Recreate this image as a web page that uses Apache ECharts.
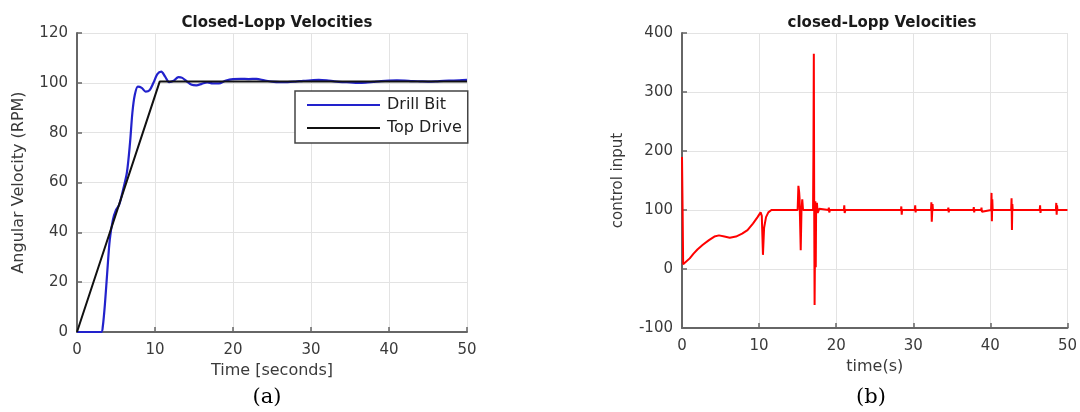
<!DOCTYPE html>
<html>
<head>
<meta charset="utf-8">
<title>Closed-Lopp Velocities</title>
<script src="https://cdn.jsdelivr.net/npm/echarts@6.0.0/dist/echarts.min.js"></script>
<style>
    html, body {margin: 0; padding: 0; background: #fff;}
    #myChart {width: 1080px; height: 412px;}
</style>
</head>
<body>
<div id="myChart"></div>
<script>
// (a) drill bit / top drive velocities
let bitTime = [0, 3.1, 3.3, 3.6, 3.9, 4.2, 4.6, 5.0, 5.4, 5.9, 6.4, 6.8, 7.1, 7.4, 7.8, 8.3, 8.8, 9.3, 9.8,
    10.3, 10.8, 11.3, 11.8, 12.4, 13.0, 13.5, 14.1, 14.7, 15.3, 16.0, 16.7, 17.4, 18.2, 19.0, 20, 21, 22, 23,
    24, 25, 26, 27, 28, 29, 30, 31, 32, 33, 34, 35, 36, 37, 38, 39, 40, 41, 42, 43, 44, 45, 46, 47, 48, 49, 50];
let bitSpeed = [0, 0, 2, 12, 25, 37, 45, 49, 51, 57, 64, 76, 88, 95, 98.5, 98, 96.5, 97, 100,
    103.5, 104.5, 102.5, 100.3, 100.8, 102.3, 102, 100.5, 99.2, 99, 99.6, 100.2, 99.8, 99.8, 100.8, 101.5, 101.6, 101.5, 101.6,
    101, 100.5, 100.3, 100.3, 100.5, 100.8, 101, 101.2, 101, 100.6, 100.3, 100.2, 100, 100.1, 100.4, 100.7, 100.9, 101, 100.9, 100.7, 100.6, 100.5, 100.6, 100.8, 100.9, 101, 101.2];

let driveTime = [0, 10.6, 50];
let driveSpeed = [0, 100.5, 100.5];

// (b) control input
let ctrlTime = [0, 0.08, 0.15, 0.4, 1.0, 1.5, 2.0, 2.7, 3.5, 4.2, 4.8, 5.5, 6.2, 7.0, 7.8, 8.5, 9.2, 9.8, 10.2,
    10.35, 10.5, 10.65, 10.9, 11.2, 11.6, 12.5, 12.6, 12.7, 12.8,
    15.0, 15.1, 15.2, 15.25, 15.3, 15.4, 15.5, 15.6, 15.7,
    17.0, 17.05, 17.1, 17.15, 17.2, 17.25, 17.3, 17.35, 17.4, 17.5, 17.6, 17.8, 18.0,
    19.0, 19.05, 19.1, 19.2, 21.0, 21.05, 21.1, 21.2, 24.6, 24.65, 24.7, 24.75, 26.4, 26.45, 26.5, 26.55,
    28.4, 28.45, 28.5, 28.55, 30.2, 30.25, 30.3, 30.35, 32.3, 32.35, 32.4, 32.5, 32.55,
    34.5, 34.55, 34.6, 34.65, 37.8, 37.85, 37.9, 37.95, 38.8, 38.85, 38.9, 38.95,
    40.1, 40.15, 40.2, 40.25, 40.3, 42.7, 42.75, 42.8, 42.85, 42.9,
    44.7, 44.75, 44.8, 44.85, 46.4, 46.45, 46.5, 46.55, 48.5, 48.55, 48.6, 48.65, 48.7, 50];
let ctrlInput = [190, 100, 8, 10, 18, 26, 33, 41, 49, 55, 57, 55, 53, 55, 60, 66, 77, 88, 96,
    90, 24, 70, 88, 96, 100, 100, 103, 98, 100,
    100, 141, 130, 120, 90, 32, 100, 118, 100,
    100, 200, 365, 100, -61, 30, 115, 3, 108, 112, 95, 102, 100,
    100, 104, 96, 100, 100, 108, 95, 100, 100, 101.5, 99, 100, 100, 102, 98.5, 100,
    100, 106, 92, 100, 100, 108, 96, 100, 100, 113, 80, 110, 100,
    100, 104, 96, 100, 100, 105, 96, 100, 100, 104, 97, 100,
    100, 129, 81, 118, 100, 100, 120, 66, 110, 100,
    100, 103, 97, 100, 100, 108, 95, 100, 100, 112, 92, 108, 100, 100];

let timeTicks = [0, 10, 20, 30, 40, 50];

function zip(xs, ys) {
    return xs.map((x, i) => [x, ys[i]]);
}

const FONT = 'DejaVu Sans';
const textGrey = '#3a3a3a';
const axisGrey = '#666';

function timeAxis(gridIndex, name) {
    return {
        type: 'value', gridIndex: gridIndex,
        min: timeTicks[0], max: timeTicks[timeTicks.length - 1], interval: 10,
        name: name, nameLocation: 'middle', nameGap: 30,
        nameTextStyle: {fontFamily: FONT, fontSize: 16, color: textGrey},
        axisLine: {onZero: false, lineStyle: {color: axisGrey, width: 2}},
        axisTick: {inside: true, length: 5, lineStyle: {color: axisGrey, width: 1.5}},
        axisLabel: {fontFamily: FONT, fontSize: 15, color: textGrey, margin: 11},
        splitLine: {lineStyle: {color: '#e3e3e3', width: 1}}
    };
}

function valueAxis(gridIndex, name, min, max, interval, gap, size) {
    return {
        type: 'value', gridIndex: gridIndex,
        min: min, max: max, interval: interval,
        name: name, nameLocation: 'middle', nameGap: gap,
        nameTextStyle: {fontFamily: FONT, fontSize: size, color: textGrey},
        axisLine: {show: true, onZero: false, lineStyle: {color: axisGrey, width: 2}},
        axisTick: {show: true, inside: true, length: 5, lineStyle: {color: axisGrey, width: 1.5}},
        axisLabel: {fontFamily: FONT, fontSize: 15, color: textGrey, margin: 9},
        splitLine: {lineStyle: {color: '#e3e3e3', width: 1}}
    };
}

let myChart = echarts.init(document.getElementById('myChart'));
myChart.setOption({
    backgroundColor: '#fff',
    animation: false,
    title: [
        {text: 'Closed-Lopp Velocities', left: 272, top: 11, textAlign: 'center',
            textStyle: {fontFamily: FONT, fontSize: 15, fontWeight: 'bold', color: '#1a1a1a'}},
        {text: 'closed-Lopp Velocities', left: 877, top: 11, textAlign: 'center',
            textStyle: {fontFamily: FONT, fontSize: 15, fontWeight: 'bold', color: '#1a1a1a'}},
        {text: '(a)', left: 262, top: 382, textAlign: 'center',
            textStyle: {fontFamily: 'DejaVu Serif', fontSize: 21, fontWeight: 'normal', color: '#000'}},
        {text: '(b)', left: 866, top: 382, textAlign: 'center',
            textStyle: {fontFamily: 'DejaVu Serif', fontSize: 21, fontWeight: 'normal', color: '#000'}}
    ],
    legend: {
        data: [
            {name: 'Drill Bit', icon: 'rect', itemStyle: {color: '#2222cc'}},
            {name: 'Top Drive', icon: 'rect', itemStyle: {color: '#111'}}
        ],
        orient: 'vertical',
        left: 295, top: 91,
        padding: [6, 6, 7, 12],
        itemWidth: 73, itemHeight: 2, itemGap: 7,
        backgroundColor: '#fff',
        borderColor: '#444', borderWidth: 1.5, borderRadius: 0,
        textStyle: {fontFamily: FONT, fontSize: 16, color: '#222', padding: [0, 0, 0, 2]}
    },
    grid: [
        {left: 77, top: 33, width: 390, height: 299},
        {left: 682, top: 33, width: 387, height: 295}
    ],
    xAxis: [timeAxis(0, 'Time [seconds]'), timeAxis(1, 'time(s)')],
    yAxis: [
        valueAxis(0, 'Angular Velocity (RPM)', 0, 120, 20, 50, 16),
        valueAxis(1, 'control input', -100, 400, 100, 56, 15)
    ],
    series: [
        {
            name: 'Drill Bit', type: 'line', xAxisIndex: 0, yAxisIndex: 0,
            data: zip(bitTime, bitSpeed), symbol: 'none', smooth: 0.3,
            lineStyle: {color: '#2222cc', width: 2.2}, itemStyle: {color: '#2222cc'}
        },
        {
            name: 'Top Drive', type: 'line', xAxisIndex: 0, yAxisIndex: 0,
            data: zip(driveTime, driveSpeed), symbol: 'none',
            lineStyle: {color: '#111', width: 2}, itemStyle: {color: '#111'}
        },
        {
            name: 'control input', type: 'line', xAxisIndex: 1, yAxisIndex: 1,
            data: zip(ctrlTime, ctrlInput), symbol: 'none',
            lineStyle: {color: '#ff0000', width: 2}, itemStyle: {color: '#ff0000'}
        }
    ]
});
</script>
</body>
</html>
